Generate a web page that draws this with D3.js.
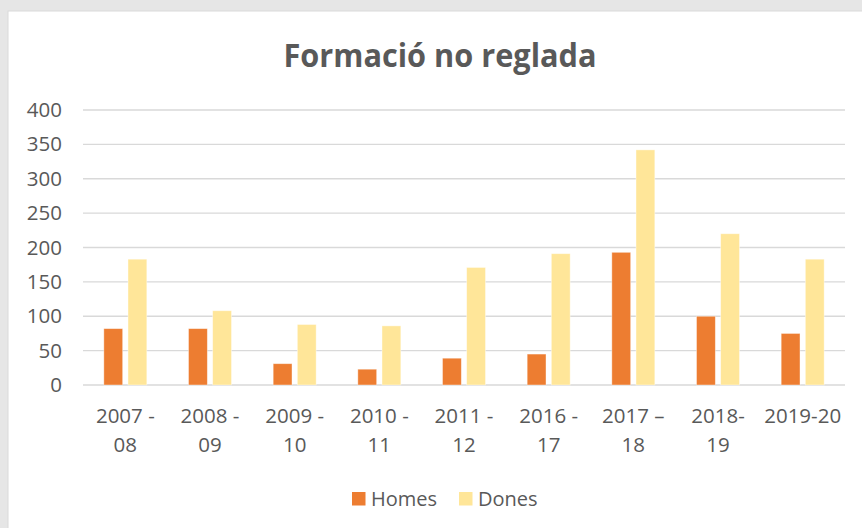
<!DOCTYPE html>
<html>
<head>
<meta charset="utf-8">
<script src="https://cdn.jsdelivr.net/npm/d3@7"></script>
<style>
  body { margin: 0; background: #e6e6e6; }
  text { font-family: "Open Sans", sans-serif; fill: #595959; }
</style>
</head>
<body>
<div id="chart"></div>
<script>
// data
var categories = [["2007 -", "08"], ["2008 -", "09"], ["2009 -", "10"], ["2010 -", "11"], ["2011 -", "12"],
                  ["2016 -", "17"], ["2017 –", "18"], ["2018-", "19"], ["2019-20"]];
var homes = [82, 82, 31, 23, 39, 45, 193, 100, 75];
var dones = [183, 108, 88, 86, 171, 191, 342, 220, 183];
var seriesNames = ["Homes", "Dones"];
var seriesColors = ["#ED7D31", "#FFE699"];
var yTicks = [0, 50, 100, 150, 200, 250, 300, 350, 400];

var svgWidth = 862, svgHeight = 528;
var margin = {top: 110, right: 17, bottom: 143, left: 83};
var width = svgWidth - margin.left - margin.right;
var height = svgHeight - margin.top - margin.bottom;

var svg = d3.select("#chart").append("svg")
  .attr("width", svgWidth)
  .attr("height", svgHeight)
  .style("display", "block");

// white panel (runs off the right and bottom edges)
svg.append("rect")
  .attr("x", 8).attr("y", 11)
  .attr("width", svgWidth + 10).attr("height", svgHeight + 10)
  .attr("fill", "#fff")
  .attr("stroke", "#d9d9d9");

svg.append("text")
  .attr("x", 440).attr("y", 67)
  .attr("text-anchor", "middle")
  .attr("font-size", 32)
  .attr("font-weight", "bold")
  .attr("textLength", 313)
  .attr("lengthAdjust", "spacingAndGlyphs")
  .text("Formació no reglada");

var g = svg.append("g").attr("transform", `translate(${margin.left}, ${margin.top})`);

var data = categories.map(function(c, i) {
  return {label: c, values: [homes[i], dones[i]]};
});

var x0 = d3.scaleBand().domain(d3.range(categories.length)).range([0, width]);
var x1 = d3.scaleBand().domain(seriesNames)
  .range([x0.bandwidth() / 2 - 21.5, x0.bandwidth() / 2 + 21.5])
  .paddingInner(0.22);
var y = d3.scaleLinear().domain([0, 400]).range([height, 0]);

// gridlines
g.selectAll(".grid").data(yTicks).enter().append("line")
  .attr("x1", 0).attr("x2", width)
  .attr("y1", d => y(d)).attr("y2", d => y(d))
  .attr("stroke", "#d9d9d9").attr("stroke-width", 1.3);

// y axis
var yAxis = g.append("g")
  .call(d3.axisLeft(y).tickValues(yTicks).tickSize(0).tickPadding(21));
yAxis.select(".domain").remove();
yAxis.selectAll("text")
  .attr("font-size", 20.5)
  .attr("fill", "#595959")
  .attr("font-family", "Open Sans, sans-serif");

// bars
var groups = g.selectAll(".group").data(data).enter().append("g")
  .attr("transform", (d, i) => `translate(${x0(i)}, 0)`);

groups.selectAll("rect").data(d => d.values.map((v, j) => ({name: seriesNames[j], value: v, color: seriesColors[j]})))
  .enter().append("rect")
  .attr("x", d => x1(d.name))
  .attr("width", x1.bandwidth())
  .attr("y", d => y(d.value))
  .attr("height", d => height - y(d.value))
  .attr("fill", d => d.color)
  .attr("stroke", "#fff")
  .attr("stroke-opacity", 0.5)
  .attr("stroke-width", 0.8);

// x labels
var xLabels = g.selectAll(".xlab").data(data).enter().append("text")
  .attr("text-anchor", "middle")
  .attr("font-size", 20.5)
  .attr("x", (d, i) => x0(i) + x0.bandwidth() / 2)
  .attr("y", height + 38);
xLabels.selectAll("tspan").data(d => d.label).enter().append("tspan")
  .attr("x", function() { return d3.select(this.parentNode).attr("x"); })
  .attr("dy", (d, i) => i === 0 ? 0 : 29)
  .text(d => d);

// legend
var legendX = [352, 459];
var legend = svg.selectAll(".legend").data(seriesNames).enter().append("g")
  .attr("transform", (d, i) => `translate(${legendX[i]}, 492)`);
legend.append("rect")
  .attr("width", 13.5).attr("height", 13.5)
  .attr("fill", (d, i) => seriesColors[i]);
legend.append("text")
  .attr("x", 19).attr("y", 13.5)
  .attr("font-size", 20)
  .text(d => d);
</script>
</body>
</html>
